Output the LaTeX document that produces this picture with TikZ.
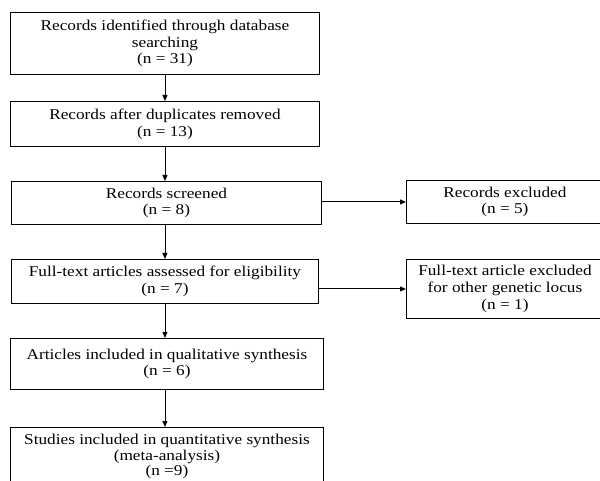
\documentclass[tikz,border=0pt]{standalone}
\usepackage{fontspec}
\setmainfont{Liberation Serif}[FakeStretch=1.15]
\usetikzlibrary{arrows.meta}
\begin{document}
\begin{tikzpicture}[x=1pt,y=-1pt,
  box/.style={draw, line width=0.9pt, rectangle, align=center, inner sep=0pt,
    font=\fontsize{15}{16.8}\selectfont, anchor=north west},
  arr/.style={-{Triangle[length=6pt,width=5pt]}, line width=0.9pt}]
\useasboundingbox (0,0) rectangle (600,481);
\clip (0,0) rectangle (600,481);
\node[box, minimum width=309pt, minimum height=62pt] (n1) at (10,12)
  {Records identified through database\\searching\\(n = 31)};
\node[box, minimum width=309pt, minimum height=45pt] (n2) at (10,101)
  {Records after duplicates removed\\(n = 13)};
\node[box, minimum width=310pt, minimum height=43pt] (n3) at (11,181)
  {Records screened\\(n = 8)};
\node[box, minimum width=307pt, minimum height=44pt] (n4) at (11,259)
  {Full-text articles assessed for eligibility\\(n = 7)};
\node[box, minimum width=313pt, minimum height=51pt] (n5) at (10,338)
  {Articles included in qualitative synthesis\\(n = 6)};
\node[box, minimum width=313pt, minimum height=58pt,
  font=\fontsize{15}{15.8}\selectfont] (n6) at (10,427)
  {Studies included in quantitative synthesis\\(meta-analysis)\\(n =9)};
\node[box, minimum width=197pt, minimum height=43pt] (r1) at (406,180)
  {Records excluded\\(n = 5)};
\node[box, minimum width=197pt, minimum height=59pt] (r2) at (406,259)
  {Full-text article excluded\\for other genetic locus\\(n = 1)};
\draw[arr] (n1.south) -- (n1.south |- n2.north);
\draw[arr] (n2.south) -- (n2.south |- n3.north);
\draw[arr] (n2.south |- n3.south) -- (n2.south |- n4.north);
\draw[arr] (n2.south |- n4.south) -- (n2.south |- n5.north);
\draw[arr] (n2.south |- n5.south) -- (n2.south |- n6.north);
\draw[arr] (r1.west -| n3.east) -- (r1.west);
\draw[arr] (r2.west -| n4.east) -- (r2.west);
\end{tikzpicture}
\end{document}
